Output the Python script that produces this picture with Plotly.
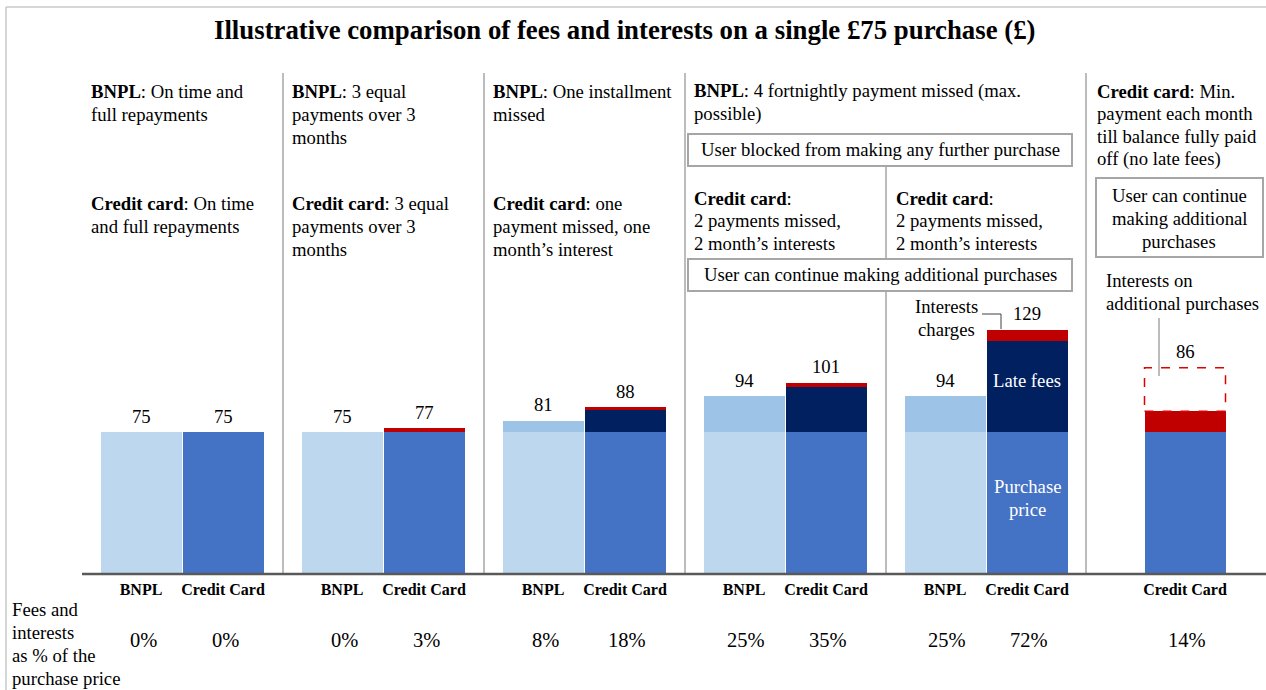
import plotly.graph_objects as go

# ---- data -------------------------------------------------------------
bnpl_purchase = [75, 75, 75, 75, 75]
bnpl_late_fees = [0, 0, 6, 19, 19]
bnpl_totals = [75, 75, 81, 94, 94]
bnpl_pct = ["0%", "0%", "8%", "25%", "25%"]

cc_purchase = [75, 75, 75, 75, 75, 75]
cc_late_fees = [0, 0, 12, 24, 48, 0]
cc_interest = [0, 2, 1, 2, 6, 11]
cc_totals = [75, 77, 88, 101, 129, 86]
cc_pct = ["0%", "3%", "18%", "35%", "72%", "14%"]
cc_additional_interest = 23  # illustrative outline on the last bar

tick_bnpl = "BNPL"
tick_cc = "Credit Card"

# ---- layout helpers ---------------------------------------------------
W, H = 1266, 690
BASE = 574            # pixel row of the baseline
FONT = "Liberation Serif"
FS = 18.7             # body text size
LH = 23               # body line height
C_BNPL = "#BDD7EE"
C_BNPL_FEE = "#9DC3E6"
C_CC = "#4472C4"
C_CC_FEE = "#002060"
C_INT = "#C00000"
GREY = "#A6A6A6"

def py(p):
    """pixel row -> paper y (plot area spans rows 0..BASE)"""
    return (BASE - p) / BASE

group_c = [182 + 201 * k for k in range(6)]
x_bnpl = [c - 41 for c in group_c[:5]]
x_cc = [c + 41 for c in group_c[:5]] + [group_c[5] - 2]
BAR_W = 81

fig = go.Figure()

def bar(x, y, color, name):
    fig.add_trace(go.Bar(x=x, y=y, width=BAR_W, marker=dict(color=color, line=dict(width=0)),
                         name=name, showlegend=False, hoverinfo="skip"))

bar(x_bnpl, bnpl_purchase, C_BNPL, "BNPL purchase price")
bar(x_bnpl, bnpl_late_fees, C_BNPL_FEE, "BNPL late fees")
bar(x_cc, cc_purchase, C_CC, "Credit card purchase price")
bar(x_cc, cc_late_fees, C_CC_FEE, "Credit card late fees")
bar(x_cc, cc_interest, C_INT, "Credit card interests")

shapes = []
annos = []

# value labels above bars
label_y = bnpl_totals + cc_totals[:5] + [cc_totals[5] + cc_additional_interest]
for xv, yv, lab in zip(x_bnpl + x_cc, label_y, bnpl_totals + cc_totals):
    annos.append(dict(x=xv, y=yv, xref="x", yref="y", text=str(lab), showarrow=False,
                      xanchor="center", yanchor="middle", yshift=16,
                      font=dict(family=FONT, size=FS, color="#000")))

# dashed outline: interests on additional purchases
shapes.append(dict(type="rect", xref="x", yref="y",
                   x0=x_cc[5] - BAR_W / 2, x1=x_cc[5] + BAR_W / 2,
                   y0=cc_totals[5], y1=cc_totals[5] + cc_additional_interest,
                   line=dict(color="#E00000", width=1.5, dash="dash"), fillcolor="rgba(0,0,0,0)"))

# frame
shapes.append(dict(type="line", xref="x", yref="paper", x0=6, x1=W, y0=py(7), y1=py(7),
                   line=dict(color="#C8C8C8", width=1.5)))
shapes.append(dict(type="line", xref="x", yref="paper", x0=6, x1=6, y0=py(7), y1=py(H),
                   line=dict(color="#C8C8C8", width=1.5)))

# group separators
for xs in [283, 484, 685, 1086]:
    shapes.append(dict(type="line", xref="x", yref="paper", x0=xs, x1=xs, y0=py(73), y1=0,
                       line=dict(color=GREY, width=1.5)))
shapes.append(dict(type="line", xref="x", yref="paper", x0=886, x1=886, y0=py(165), y1=0,
                   line=dict(color=GREY, width=1.5)))

# baseline
shapes.append(dict(type="line", xref="x", yref="paper", x0=82, x1=W, y0=0, y1=0,
                   line=dict(color="#595959", width=2.5)))

# boxed notes
def box(x0, x1, y0, y1):
    shapes.append(dict(type="rect", xref="x", yref="paper", x0=x0, x1=x1, y0=py(y1), y1=py(y0),
                       line=dict(color=GREY, width=2), fillcolor="white"))

box(688, 1072, 134, 166)
box(688, 1072, 259, 291)
box(1096, 1263, 178, 257)

# leader lines
shapes.append(dict(type="path", xref="x", yref="paper",
                   path=f"M 982 {py(314)} L 1001 {py(314)} L 1001 {py(329)}",
                   line=dict(color="#404040", width=1)))
shapes.append(dict(type="line", xref="x", yref="paper", x0=1159, x1=1159, y0=py(318), y1=py(376),
                   line=dict(color=GREY, width=1.5)))

def text(x, y, lines, size=FS, xanchor="left", color="#000", lh=LH):
    """place each line separately; y is the centre row of the first line"""
    if isinstance(lines, str):
        lines = [lines]
    if xanchor == "left":
        x -= 2  # compensate for the annotation's inner padding
    for i, s in enumerate(lines):
        annos.append(dict(x=x, y=py(y + i * lh), xref="x", yref="paper", text=s, showarrow=False,
                          xanchor=xanchor, yanchor="middle", align="left",
                          font=dict(family=FONT, size=size, color=color)))

# title
text(625, 30, "<b>Illustrative comparison of fees and interests on a single £75 purchase (£)</b>",
     size=26.8, xanchor="center")

# scenario descriptions
text(91, 91, ["<b>BNPL</b>: On time and", "full repayments"])
text(91, 204, ["<b>Credit card</b>: On time", "and full repayments"])
text(292, 91, ["<b>BNPL</b>: 3 equal", "payments over 3", "months"])
text(292, 204, ["<b>Credit card</b>: 3 equal", "payments over 3", "months"])
text(493, 91, ["<b>BNPL</b>: One installment", "missed"])
text(493, 204, ["<b>Credit card</b>: one", "payment missed, one", "month’s interest"])
text(694, 91, ["<b>BNPL</b>: 4 fortnightly payment missed (max.", "possible)"])
text(880, 150, "User blocked from making any further purchase", xanchor="center")
text(694, 198, ["<b>Credit card</b>:", "2 payments missed,", "2 month’s interests"])
text(896, 198, ["<b>Credit card</b>:", "2 payments missed,", "2 month’s interests"])
text(880, 275, "User can continue making additional purchases", xanchor="center")
text(1097, 91, ["<b>Credit card</b>: Min.", "payment each month", "till balance fully paid",
                "off (no late fees)"], lh=22.7)
text(1179, 195, ["User can continue", "making additional", "purchases"], xanchor="center")
text(1106, 280, ["Interests on", "additional purchases"])
text(946, 307, ["Interests", "charges"], xanchor="center")

# labels inside the 129 bar
text(x_cc[4], 380, "Late fees", xanchor="center", color="white")
text(x_cc[4], 486, ["Purchase", "price"], xanchor="center", color="white")

# percentage row
text(12, 609, ["Fees and", "interests", "as % of the", "purchase price"], lh=23.3)
for xv, p in zip(x_bnpl + x_cc, bnpl_pct + cc_pct):
    text(xv + 2, 640, p, size=20.5, xanchor="center")

fig.update_layout(
    width=W, height=H,
    margin=dict(l=0, r=0, t=0, b=H - BASE, pad=0),
    paper_bgcolor="white", plot_bgcolor="white",
    barmode="stack", bargap=0,
    shapes=shapes, annotations=annos,
    xaxis=dict(range=[0, W], showgrid=False, zeroline=False, showline=False,
               tickvals=x_bnpl + x_cc,
               ticktext=[f"<b>{tick_bnpl}</b>"] * 5 + [f"<b>{tick_cc}</b>"] * 6,
               tickfont=dict(family=FONT, size=16, color="#000"),
               ticks="outside", ticklen=1, tickcolor="rgba(0,0,0,0)"),
    yaxis=dict(range=[0, BASE / 1.893], showgrid=False, zeroline=False, showline=False,
               showticklabels=False),
)

fig.write_html("out.html")
